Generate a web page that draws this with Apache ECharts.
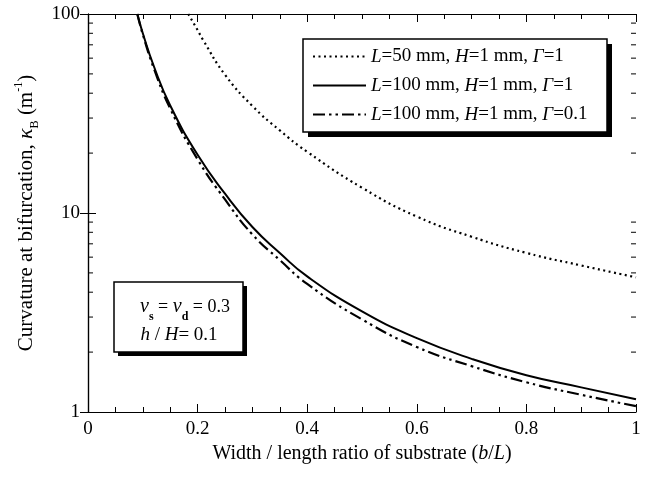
<!DOCTYPE html>
<html>
<head>
<meta charset="utf-8">
<script src="https://cdn.jsdelivr.net/npm/echarts@6/dist/echarts.min.js"></script>
<style>html,body{margin:0;padding:0;background:#fff}#c{width:652px;height:477px}</style>
</head>
<body>
<div id="c"></div>
<script>
// ---- data ----
const xTicks = [0, 0.2, 0.4, 0.6, 0.8, 1];
const yTicks = [1, 10, 100];
const yMinorTicks = [2,3,4,5,6,7,8,9,20,30,40,50,60,70,80,90];

const seriesNames = ['L=50 mm, H=1 mm, Γ=1', 'L=100 mm, H=1 mm, Γ=1', 'L=100 mm, H=1 mm, Γ=0.1'];

const xL50 = [0.183, 0.2, 0.21, 0.25, 0.3, 0.35, 0.4, 0.5, 0.6, 0.7, 0.8, 0.9, 1.0];
const yL50 = [100, 83, 74, 49.5, 34.5, 26, 20.3, 13.4, 9.6, 7.6, 6.3, 5.45, 4.75];

const xL100 = [0.09, 0.10, 0.12, 0.15, 0.2, 0.25, 0.3, 0.35, 0.4, 0.5, 0.6, 0.7, 0.8, 0.9, 1.0];
const yL100g1 = [100, 80, 54.8, 34.7, 19.6, 12.5, 8.5, 6.3, 4.8, 3.2, 2.35, 1.85, 1.53, 1.33, 1.16];
const yL100g01 = [100, 79, 53.5, 33.5, 18.6, 11.7, 7.8, 5.8, 4.4, 2.92, 2.12, 1.70, 1.41, 1.22, 1.07];

const zip = (xs, ys) => xs.map((x, i) => [x, ys[i]]);

const serif = 'Liberation Serif';
const black = '#000';

const chart = echarts.init(document.getElementById('c'), null, {renderer: 'canvas'});

const axisCommon = {
  axisLine: {show: true, lineStyle: {color: black, width: 1.2}},
  axisTick: {show: true, inside: true, length: 8, lineStyle: {color: black, width: 1}},
  splitLine: {show: false}
};

const lineCommon = {type: 'line', smooth: 0.5, symbol: 'none', showSymbol: false, clip: true, itemStyle: {color: black}, z: 3};

const option = {
  backgroundColor: '#fff',
  animation: false,
  grid: {left: 88, right: 16, top: 14, bottom: 65},
  legend: {
    orient: 'vertical',
    left: 303, top: 38,
    padding: [9, 10, 10, 9],
    itemGap: 10,
    itemWidth: 53,
    itemHeight: 14,
    z: 10,
    itemStyle: {opacity: 0, borderWidth: 0},
    data: seriesNames,
    formatter: function (name) {
      const m = name.match(/^L=(\S+) mm, H=1 mm, Γ=(\S+)$/);
      return '{i|L}{t|=' + m[1] + ' mm, }{i|H}{t|=1 mm, }{i|Γ}{t|=' + m[2] + '}';
    },
    textStyle: {
      color: black, fontFamily: serif, fontSize: 19,
      rich: {
        t: {fontFamily: serif, fontSize: 19, color: black},
        i: {fontFamily: serif, fontSize: 19, fontStyle: 'italic', color: black}
      }
    }
  },
  xAxis: [
    Object.assign({}, axisCommon, {
      type: 'value', min: 0, max: 1, interval: 0.2, position: 'bottom',
      minorTick: {show: true, splitNumber: 4, length: 5, lineStyle: {color: black, width: 1}},
      axisLabel: {show: true, color: black, fontFamily: serif, fontSize: 19, margin: 8,
        formatter: v => xTicks.includes(Math.round(v * 10) / 10) ? String(Math.round(v * 10) / 10) : ''},
      name: 'Width / length ratio of substrate ({i|b}/{i|L})',
      nameLocation: 'middle', nameGap: 29,
      nameTextStyle: {color: black, fontFamily: serif, fontSize: 20,
        rich: {i: {fontFamily: serif, fontSize: 20, fontStyle: 'italic', color: black}}}
    }),
    Object.assign({}, axisCommon, {
      type: 'value', min: 0, max: 1, interval: 0.2, position: 'top',
      minorTick: {show: true, splitNumber: 4, length: 5, lineStyle: {color: black, width: 1}},
      axisLabel: {show: false}
    })
  ],
  yAxis: [
    Object.assign({}, axisCommon, {
      type: 'log', logBase: 10, min: 1, max: 100, position: 'left',
      axisLabel: {show: true, color: black, fontFamily: serif, fontSize: 19, margin: 8,
        formatter: v => yTicks.includes(v) ? String(v) : ''},
      name: '{t|Curvature at bifurcation, }{k|κ}{sub|B}{t| (m}{sup|-1}{t|)}',
      nameLocation: 'middle', nameGap: 46,
      nameTextStyle: {color: black, fontFamily: serif, fontSize: 21,
        rich: {
          t: {fontFamily: serif, fontSize: 21, color: black, lineHeight: 28},
          k: {fontFamily: serif, fontSize: 22, fontStyle: 'italic', color: black, lineHeight: 28},
          sub: {fontFamily: serif, fontSize: 12, color: black, lineHeight: 28, verticalAlign: 'bottom'},
          sup: {fontFamily: serif, fontSize: 12, color: black, lineHeight: 28, verticalAlign: 'top'}
        }}
    }),
    Object.assign({}, axisCommon, {
      type: 'log', logBase: 10, min: 1, max: 100, position: 'right',
      axisLabel: {show: false}
    })
  ],
  series: [
    Object.assign({}, lineCommon, {
      name: seriesNames[0], data: zip(xL50, yL50),
      lineStyle: {color: black, width: 2.2, type: [2, 3.5]}
    }),
    Object.assign({}, lineCommon, {
      name: seriesNames[1], data: zip(xL100, yL100g1),
      lineStyle: {color: black, width: 2, type: 'solid'}
    }),
    Object.assign({}, lineCommon, {
      name: seriesNames[2], data: zip(xL100, yL100g01),
      lineStyle: {color: black, width: 2.2, type: [12, 4, 2.5, 4, 2.5, 4]}
    }),
    {
      type: 'custom', silent: true, clip: false,
      data: yMinorTicks.map(v => [0, v]),
      encode: {x: 0, y: 1},
      renderItem: function (params, api) {
        const v = api.value(1);
        const pl = api.coord([0, v]);
        const pr = api.coord([1, v]);
        return {type: 'group', children: [
          {type: 'line', shape: {x1: pl[0], y1: pl[1], x2: pl[0] + 5, y2: pl[1]}, style: {stroke: black, lineWidth: 1}},
          {type: 'line', shape: {x1: pr[0], y1: pr[1], x2: pr[0] - 5, y2: pr[1]}, style: {stroke: black, lineWidth: 1}}
        ]};
      }
    }
  ],
  graphic: [
    // legend frame with hard shadow
    {type: 'rect', z: 5, shape: {x: 308, y: 44, width: 304, height: 93}, style: {fill: black}},
    {type: 'rect', z: 6, shape: {x: 303, y: 39, width: 304, height: 93}, style: {fill: '#fff', stroke: black, lineWidth: 1.5}},
    // parameter box
    {type: 'rect', z: 5, shape: {x: 118, y: 286, width: 129, height: 70}, style: {fill: black}},
    {type: 'rect', z: 6, shape: {x: 114, y: 282, width: 129, height: 70}, style: {fill: '#fff', stroke: black, lineWidth: 1.5}},
    {type: 'text', z: 7, x: 185, y: 307,
     style: {
       text: '{n|ν}{sub|s}{t| = }{n|ν}{sub|d}{t| = 0.3}',
       align: 'center', verticalAlign: 'middle', fill: black,
       rich: {
         t: {fontFamily: serif, fontSize: 18, fill: black, lineHeight: 28},
         n: {fontFamily: serif, fontSize: 20, fontStyle: 'italic', fill: black, lineHeight: 28},
         sub: {fontFamily: serif, fontSize: 12, fontWeight: 'bold', fill: black, lineHeight: 31, verticalAlign: 'bottom'}
       }
     }},
    {type: 'text', z: 7, x: 179, y: 335,
     style: {
       text: '{i|h}{t| / }{i|H}{t|= 0.1}',
       align: 'center', verticalAlign: 'middle', fill: black,
       rich: {
         t: {fontFamily: serif, fontSize: 19, fill: black},
         i: {fontFamily: serif, fontSize: 19, fontStyle: 'italic', fill: black}
       }
     }}
  ]
};

chart.setOption(option);
</script>
</body>
</html>
